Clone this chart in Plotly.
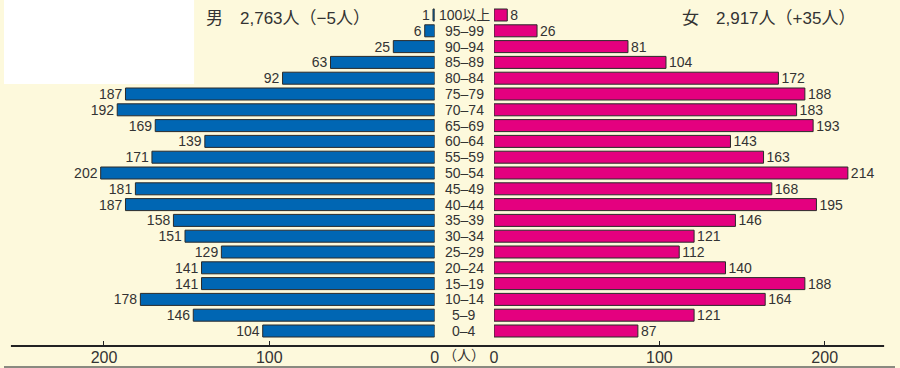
import plotly.graph_objects as go

ages = ["0–4", "5–9", "10–14", "15–19", "20–24", "25–29", "30–34", "35–39", "40–44",
        "45–49", "50–54", "55–59", "60–64", "65–69", "70–74", "75–79", "80–84",
        "85–89", "90–94", "95–99", "100以上"]
male = [104, 146, 178, 141, 141, 129, 151, 158, 187, 181, 202, 171, 139, 169, 192, 187, 92, 63, 25, 6, 1]
female = [87, 121, 164, 188, 140, 112, 121, 146, 195, 168, 214, 163, 143, 193, 183, 188, 172, 104, 81, 26, 8]
tick_vals = [0, 100, 200]
male_title = "男　2,763人（−5人）"
female_title = "女　2,917人（+35人）"
unit_label = "（人）"

W, H = 900, 368
FONT = "Liberation Sans, Arial, Noto Sans CJK JP, sans-serif"
BG = "#fdf9dc"
BLUE = "#0066b3"
PINK = "#e4007f"
TXT = "#333333"

idx = list(range(len(ages)))

fig = go.Figure()
fig.add_trace(go.Bar(
    y=idx, x=male, orientation="h", xaxis="x", yaxis="y",
    marker=dict(color=BLUE, line=dict(color="#2a2a2a", width=1)),
    width=0.76, text=[str(v) for v in male], textposition="outside",
    constraintext="none",
    textfont=dict(size=14, color=TXT, family=FONT), cliponaxis=False,
    hoverinfo="skip"))
fig.add_trace(go.Bar(
    y=idx, x=female, orientation="h", xaxis="x2", yaxis="y",
    marker=dict(color=PINK, line=dict(color="#2a2a2a", width=1)),
    width=0.76, text=[str(v) for v in female], textposition="outside",
    constraintext="none",
    textfont=dict(size=14, color=TXT, family=FONT), cliponaxis=False,
    hoverinfo="skip"))

px_per_unit = (435 - 101) / 200.0
left_zero, right_zero = 435, 495
y_axis_px = 346
row0_px, row_step = 331, 15.8

y_bottom = (row0_px - y_axis_px) / row_step
y_top = row0_px / row_step

annotations = []
for i, a in enumerate(ages):
    annotations.append(dict(x=465 / W, xref="paper", y=i, yref="y", text=a,
                            showarrow=False, xanchor="center", yanchor="middle",
                            font=dict(size=14, color=TXT, family=FONT)))
annotations += [
    dict(x=287 / W, y=1 - 19 / H, xref="paper", yref="paper", text=male_title, showarrow=False,
         font=dict(size=17, color=TXT, family=FONT), xanchor="center", yanchor="middle"),
    dict(x=772 / W, y=1 - 19 / H, xref="paper", yref="paper", text=female_title, showarrow=False,
         font=dict(size=17, color=TXT, family=FONT), xanchor="center", yanchor="middle"),
    dict(x=465 / W, y=1 - 355 / H, xref="paper", yref="paper", text=unit_label,
         showarrow=False, xanchor="center", yanchor="middle",
         font=dict(size=14, color=TXT, family=FONT)),
]

shapes = [
    dict(type="rect", xref="paper", yref="paper", x0=0, x1=192 / W, y0=1 - 84 / H, y1=1,
         fillcolor="white", line=dict(width=0), layer="below"),
    dict(type="line", xref="paper", yref="paper", x0=7 / W, x1=889 / W,
         y0=1 - y_axis_px / H, y1=1 - y_axis_px / H, line=dict(color="#222", width=2)),
    dict(type="line", xref="paper", yref="paper", x0=0, x1=1,
         y0=1 - 367 / H, y1=1 - 367 / H, line=dict(color="#8a8a80", width=2)),
]

axis_common = dict(tickvals=tick_vals, ticks="inside", ticklen=5, tickcolor="#222",
                   tickwidth=1, showgrid=False, zeroline=False, showline=False,
                   anchor="y", tickfont=dict(size=16, color=TXT, family=FONT),
                   fixedrange=True)

fig.update_layout(
    width=W, height=H, margin=dict(l=0, r=0, t=0, b=0),
    paper_bgcolor=BG, plot_bgcolor="rgba(0,0,0,0)",
    showlegend=False, barmode="overlay",
    font=dict(family=FONT, color=TXT),
    xaxis=dict(domain=[0, left_zero / W], range=[left_zero / px_per_unit, 0], **axis_common),
    xaxis2=dict(domain=[right_zero / W, 1], range=[0, (W - right_zero) / px_per_unit], **axis_common),
    yaxis=dict(domain=[1 - y_axis_px / H, 1], range=[y_bottom, y_top],
               showticklabels=False, showgrid=False, zeroline=False, ticks="", fixedrange=True),
    annotations=annotations, shapes=shapes,
)

fig.write_html("out.html", config={"displayModeBar": False},
               post_script="document.body.style.margin='0';document.body.style.padding='0';")
